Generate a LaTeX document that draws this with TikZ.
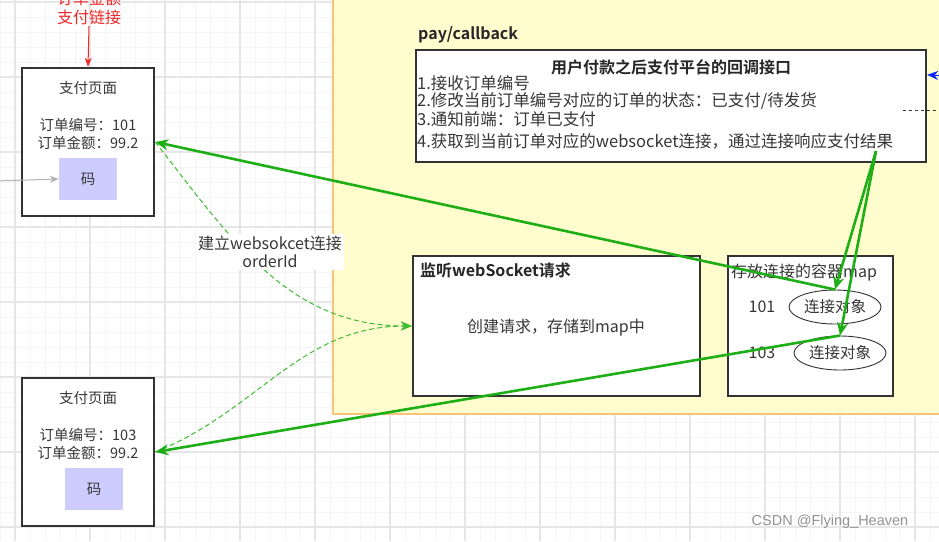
\documentclass[tikz,border=0pt]{standalone}
\usepackage{fontspec}
\setmainfont{Noto Sans CJK SC}[BoldFont={Noto Sans CJK SC Bold}]
\newfontfamily\wmfont{Liberation Sans}
\usepackage{tikz}
\usetikzlibrary{arrows.meta,positioning,calc,shapes.geometric}
\usepackage{xcolor}
\definecolor{gridminor}{RGB}{245,245,245}
\definecolor{gridmajor}{RGB}{230,230,230}
\definecolor{yellowbg}{RGB}{255,252,206}
\definecolor{yellowedge}{RGB}{250,196,120}
\definecolor{boxline}{RGB}{51,51,51}
\definecolor{txtgray}{RGB}{55,55,55}
\definecolor{codefill}{RGB}{204,204,255}
\definecolor{linkgreen}{RGB}{30,174,22}
\definecolor{dashgreen}{RGB}{60,188,48}
\definecolor{linkred}{RGB}{238,40,40}
\definecolor{linkblue}{RGB}{10,40,255}

\begin{document}
\begin{tikzpicture}[x=1pt,y=-1pt,
    pagebox/.style={draw=boxline,line width=2.6pt,fill=white,minimum width=132pt,minimum height=148pt,inner sep=0pt},
    codebox/.style={fill=codefill,minimum width=58pt,minimum height=42pt,inner sep=0pt,text=txtgray,font=\fontsize{14.5}{17}\selectfont},
    plainbox/.style={draw=boxline,line width=2.2pt,fill=white,inner sep=0pt},
    smalltxt/.style={text=txtgray,inner sep=1pt,font=\fontsize{14.5}{18}\selectfont,align=center},
    bigtxt/.style={text=txtgray,inner sep=1pt,font=\fontsize{16}{18}\selectfont},
    steptxt/.style={text=txtgray,inner sep=1pt,font=\fontsize{16.5}{18}\selectfont},
    boldtxt/.style={text=black!85,inner sep=1pt,font=\bfseries\fontsize{16}{18}\selectfont},
    objell/.style={ellipse,draw=boxline,line width=0.9pt,fill=white,minimum width=92pt,minimum height=34pt,inner sep=0pt,text=txtgray,font=\fontsize{15.5}{18}\selectfont},
    thickarr/.style={draw=linkgreen,line width=2.6pt,-{Stealth[length=13pt,width=11pt]}},
    dasharr/.style={draw=dashgreen,line width=1pt,dash pattern=on 5pt off 3pt,-{Stealth[length=11pt,width=9pt]}}]
\useasboundingbox (0,0) rectangle (939,541);
% background grid
\fill[white] (0,0) rectangle (939,541);
\foreach \x in {0,15,...,939} \draw[gridminor,line width=0.8pt] (\x,0) -- (\x,541);
\foreach \y in {2,17,...,541} \draw[gridminor,line width=0.8pt] (0,\y) -- (939,\y);
\foreach \x in {15,90,...,939} \draw[gridmajor,line width=1.1pt] (\x,0) -- (\x,541);
\foreach \y in {2,77,...,541} \draw[gridmajor,line width=1.1pt] (0,\y) -- (939,\y);
% yellow server area
\fill[yellowbg] (333,-10) rectangle (950,414);
\draw[yellowedge,line width=1.6pt] (333,-10) -- (333,414) -- (950,414);

% payment pages
\node[pagebox] (pay1) at (88,142) {};
\node[smalltxt] (pay1t) at (88,88) {支付页面};
\node[smalltxt] (pay1n) at (88,134) {订单编号：101\\订单金额：99.2};
\node[codebox] (code1) at (88,179) {码};
\node[pagebox] (pay2) at (88,452) {};
\node[smalltxt] (pay2t) at (88,398) {支付页面};
\node[smalltxt] (pay2n) at (88,444) {订单编号：103\\订单金额：99.2};
\node[codebox] (code2) at (94,489) {码};

\node[bigtxt,text=linkred,align=center,font=\fontsize{16}{19}\selectfont] (paylink) at (89,8) {订单金额\\支付链接};
\draw[linkred,line width=1pt,-{Stealth[length=9pt,width=7pt]}] (paylink.south) -- (pay1.north);
\coordinate (scanin) at (-5,181);
\draw[gray!60,line width=1pt,-{Stealth[length=9pt,width=7pt]}] (scanin) -- (code1.west);

% callback interface
\node[boldtxt,anchor=west] (cblabel) at (417,35) {pay/callback};
\node[plainbox,minimum width=510pt,minimum height=112pt] (cb) at (671,106) {};
\node[boldtxt] (cbtitle) at (671,67) {用户付款之后支付平台的回调接口};
\node[steptxt,anchor=west] (step1) at (416,83) {1.接收订单编号};
\node[steptxt,anchor=west] (step2) at (416,101) {2.修改当前订单编号对应的订单的状态：已支付/待发货};
\node[steptxt,anchor=west] (step3) at (416,119) {3.通知前端：订单已支付};
\node[steptxt,anchor=west] (step4) at (416,141) {4.获取到当前订单对应的websocket连接，通过连接响应支付结果};
\coordinate (bluein) at (950,76);
\draw[linkblue,line width=1pt,-{Stealth[length=11pt,width=9pt]}] (bluein) -- ($(cb.north east)+(0,26)$);
\coordinate (dash1) at (903,110);
\coordinate (dash2) at (950,110);
\draw[black!80,line width=1pt,dashed] (dash1) -- (dash2);

% websocket listener and map
\node[plainbox,minimum width=287pt,minimum height=140pt] (listen) at (556.5,326) {};
\node[boldtxt,anchor=west] (listent) at (419,270) {监听webSocket请求};
\node[bigtxt] (listenc) at (556,328) {创建请求，存储到map中};
\node[plainbox,minimum width=165pt,minimum height=140pt] (mapbox) at (810.5,326) {};
\node[bigtxt,anchor=west] (mapt) at (730,273) {存放连接的容器map};
\node[bigtxt] (key1) at (762,307) {101};
\node[objell] (obj1) at (835,307) {连接对象};
\node[bigtxt] (key2) at (762,353) {103};
\node[objell] (obj2) at (840,353) {连接对象};

% connections
\draw[dasharr] (pay1.east) to[out=-52,in=180] (listen.west);
\draw[dasharr] (pay2.east) to[out=22,in=180] (listen.west);
\node[bigtxt,fill=white,align=center,inner sep=2pt] (wslabel) at (270,252) {建立websokcet连接\\orderId};
\coordinate (cbout) at (876,151);
\draw[thickarr] (cbout) -- (obj1.north);
\draw[thickarr] (cbout) -- (obj2.north);
\draw[thickarr] (obj1.north) -- (pay1.east);
\draw[thickarr] (obj2.north) -- (pay2.east);

\node[text=gray!85,font=\wmfont\fontsize{14.5}{16}\selectfont] (wm) at (830,522) {CSDN @Flying\_Heaven};
\end{tikzpicture}
\end{document}
